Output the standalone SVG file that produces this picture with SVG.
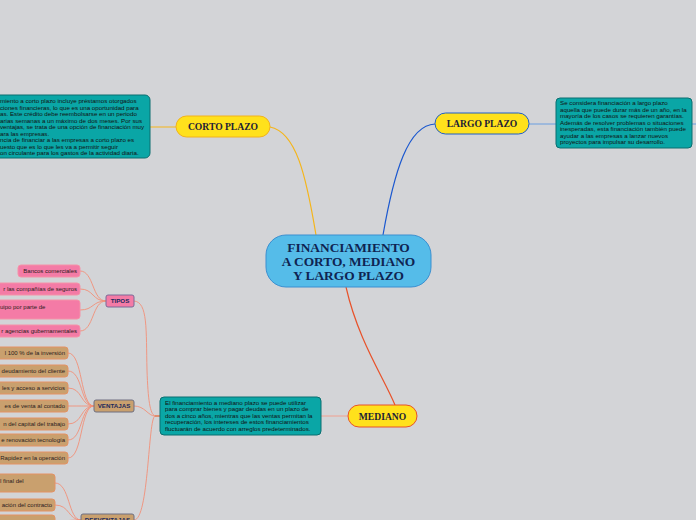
<svg xmlns="http://www.w3.org/2000/svg" width="696" height="520" viewBox="0 0 696 520">
<style>
.bg{fill:#d3d4d7}
.main{fill:#55bce9;stroke:#3b8fd0;stroke-width:1}
.mt{font-family:"Liberation Serif",serif;font-weight:bold;font-size:13.4px;fill:#0f2452;text-anchor:middle}
.yel{fill:#ffe11c;stroke-width:1}
.yt{font-family:"Liberation Serif",serif;font-weight:bold;font-size:9.6px;fill:#1b2036;text-anchor:middle}
.teal{fill:#0aa6a6;stroke:#0b6e70;stroke-width:1}
.tt{font-family:"Liberation Sans",Arial,sans-serif;font-size:6.2px;fill:#111}
.pink{fill:#f47ba6;stroke:#f592a8;stroke-width:1}
.tan{fill:#c9a06e;stroke:#e49264;stroke-width:1}
.lt{font-family:"Liberation Sans",Arial,sans-serif;font-size:6px;fill:#2a2020}
.sub{font-family:"Liberation Sans",Arial,sans-serif;font-weight:bold;font-size:6.2px;fill:#1c2a5c;text-anchor:middle}
.c{fill:none;stroke:#f29078;stroke-width:0.9}
</style>
<rect class="bg" x="0" y="0" width="696" height="520"/>
<g id="connectors">
<path d="M316,235 C306,175 296,132 270,127" fill="none" stroke="#f5b51a" stroke-width="1.2"/>
<path d="M176,127 L150,127" fill="none" stroke="#f5b51a" stroke-width="1"/>
<path d="M383,235 C394,172 408,125 435,124" fill="none" stroke="#1b58cf" stroke-width="1.2"/>
<path d="M529,124 L556,124" fill="none" stroke="#6b9ee0" stroke-width="1"/>
<path d="M692,124 L696,124" fill="none" stroke="#6b9ee0" stroke-width="1"/>
<path d="M346,287 C358,340 384,378 395,405" fill="none" stroke="#e8522a" stroke-width="1.2"/>
<path d="M348,416 L321,416" fill="none" stroke="#f0a090" stroke-width="1"/>
<path d="M155,416 L160,416" fill="none" stroke="#e8602a" stroke-width="1.2"/>
<path class="c" d="M155,416 C150,414 148,400 147,370 C146,330 148,302 134,301"/>
<path class="c" d="M155,416 C148,416 145,406 134,406"/>
<path class="c" d="M155,416 C148,418 149,520 134,520"/>
<path class="c" d="M106,301 C92,301 94,271 80,271"/>
<path class="c" d="M106,301 C92,301 94,289 80,289"/>
<path class="c" d="M106,301 C92,301 94,310 80,310"/>
<path class="c" d="M106,301 C92,301 94,331 80,331"/>
<path class="c" d="M94,406 C80,406 83,353 68,353"/>
<path class="c" d="M94,406 C80,406 83,371 68,371"/>
<path class="c" d="M94,406 C80,406 83,388 68,388"/>
<path class="c" d="M94,406 C80,406 83,406 68,406"/>
<path class="c" d="M94,406 C80,406 83,424 68,424"/>
<path class="c" d="M94,406 C80,406 83,440 68,440"/>
<path class="c" d="M94,406 C80,406 83,458 68,458"/>
<path class="c" d="M81,520 C68,520 70,483 55,483"/>
<path class="c" d="M81,520 C68,520 70,505 55,505"/>
<path class="c" d="M81,520 C70,520 68,521 55,521"/>
</g>
<g id="center">
<rect class="main" x="266" y="235" width="165" height="52" rx="20"/>
<text class="mt" x="348.5" y="252">FINANCIAMIENTO</text>
<text class="mt" x="348.5" y="266">A CORTO, MEDIANO</text>
<text class="mt" x="348.5" y="280">Y LARGO PLAZO</text>
</g>
<g id="corto">
<rect class="yel" x="176" y="116" width="94" height="21" rx="10.5" stroke="#f2b21a"/>
<text class="yt" x="223" y="130">CORTO PLAZO</text>
</g>
<g id="corto-desc">
<rect class="teal" x="-10" y="95" width="160" height="63" rx="5"/>
<text class="tt" x="0" y="103">miento a corto plazo incluye préstamos otorgados</text>
<text class="tt" x="0" y="109.5">ciones financieras, lo que es una oportunidad para</text>
<text class="tt" x="0" y="116">as. Este crédito debe reembolsarse en un periodo</text>
<text class="tt" x="0" y="122.5">arias semanas a un máximo de dos meses. Por sus</text>
<text class="tt" x="0" y="129">ventajas, se trata de una opción de financiación muy</text>
<text class="tt" x="0" y="135.5">ara las empresas.</text>
<text class="tt" x="0" y="142">ncia de financiar a las empresas a corto plazo es</text>
<text class="tt" x="0" y="148.5">uesto que es lo que les va a permitir seguir</text>
<text class="tt" x="0" y="155">on circulante para los gastos de la actividad diaria.</text>
</g>
<g id="largo">
<rect class="yel" x="435" y="113" width="94" height="21" rx="10.5" stroke="#1f5fc8"/>
<text class="yt" x="482" y="127">LARGO PLAZO</text>
</g>
<g id="largo-desc">
<rect class="teal" x="556" y="98" width="136" height="50" rx="4"/>
<text class="tt" x="560" y="105">Se considera financiación a largo plazo</text>
<text class="tt" x="560" y="111.5">aquella que puede durar más de un año, en la</text>
<text class="tt" x="560" y="118">mayoría de los casos se requieren garantías.</text>
<text class="tt" x="560" y="124.5">Además de resolver problemas o situaciones</text>
<text class="tt" x="560" y="131">inesperadas, esta financiación también puede</text>
<text class="tt" x="560" y="137.5">ayudar a las empresas a lanzar nuevos</text>
<text class="tt" x="560" y="144">proyectos para impulsar su desarrollo.</text>
</g>
<g id="mediano">
<rect class="yel" x="348" y="405" width="69" height="22" rx="11" stroke="#e8522a"/>
<text class="yt" x="382.5" y="419.5">MEDIANO</text>
</g>
<g id="mediano-desc">
<rect class="teal" x="160" y="397" width="161" height="38" rx="4"/>
<text class="tt" x="165" y="404.5">El financiamiento a mediano plazo se puede utilizar</text>
<text class="tt" x="165" y="411">para comprar bienes y pagar deudas en un plazo de</text>
<text class="tt" x="165" y="417.5">dos a cinco años, mientras que las ventas permitan la</text>
<text class="tt" x="165" y="424">recuperación, los intereses de estos financiamientos</text>
<text class="tt" x="165" y="430.5">fluctuarán de acuerdo con arreglos predeterminados.</text>
</g>
<g id="tipos">
<rect x="106" y="295" width="28" height="12" rx="2" fill="#f47ba6" stroke="#7a6a98"/>
<text class="sub" x="120" y="303.2">TIPOS</text>
</g>
<g id="ventajas">
<rect x="94" y="400" width="40" height="12" rx="2" fill="#c9a06e" stroke="#6e6e80"/>
<text class="sub" x="114" y="408.2">VENTAJAS</text>
</g>
<g id="desventajas">
<rect x="81" y="514" width="53" height="12" rx="2" fill="#c9a06e" stroke="#6e6e80"/>
<text class="sub" x="107.5" y="522.2">DESVENTAJAS</text>
</g>
<g id="tipo1"><rect class="pink" x="18" y="265" width="62" height="12" rx="3"/><text class="lt" x="77" y="273.2" text-anchor="end">Bancos comerciales</text></g>
<g id="tipo2"><rect class="pink" x="-5" y="283" width="85" height="12" rx="3"/><text class="lt" x="77" y="291.2" text-anchor="end">r las compañías de seguros</text></g>
<g id="tipo3"><rect class="pink" x="-5" y="300" width="85" height="19" rx="3"/><text class="lt" x="0" y="308.5">uipo por parte de</text></g>
<g id="tipo4"><rect class="pink" x="-5" y="325" width="85" height="12" rx="3"/><text class="lt" x="77" y="333.2" text-anchor="end">r agencias gubernamentales</text></g>
<g id="v1"><rect class="tan" x="-5" y="347" width="73" height="12" rx="3"/><text class="lt" x="65" y="355.2" text-anchor="end">l 100 % de la inversión</text></g>
<g id="v2"><rect class="tan" x="-5" y="365" width="73" height="12" rx="3"/><text class="lt" x="65" y="373.2" text-anchor="end">deudamiento del cliente</text></g>
<g id="v3"><rect class="tan" x="-5" y="382" width="73" height="12" rx="3"/><text class="lt" x="65" y="390.2" text-anchor="end">les y acceso a servicios</text></g>
<g id="v4"><rect class="tan" x="-5" y="400" width="73" height="12" rx="3"/><text class="lt" x="65" y="408.2" text-anchor="end">es de venta al contado</text></g>
<g id="v5"><rect class="tan" x="-5" y="418" width="73" height="12" rx="3"/><text class="lt" x="65" y="426.2" text-anchor="end">n del capital del trabajo</text></g>
<g id="v6"><rect class="tan" x="-5" y="434" width="73" height="12" rx="3"/><text class="lt" x="65" y="442.2" text-anchor="end">e renovación tecnología</text></g>
<g id="v7"><rect class="tan" x="-5" y="452" width="73" height="12" rx="3"/><text class="lt" x="65" y="460.2" text-anchor="end">Rapidez en la operación</text></g>
<g id="d1"><rect class="tan" x="-5" y="474" width="60" height="18" rx="3"/><text class="lt" x="0" y="482.5">l final del</text></g>
<g id="d2"><rect class="tan" x="-5" y="499" width="60" height="12" rx="3"/><text class="lt" x="52" y="507.2" text-anchor="end">ación del contracto</text></g>
<g id="d3"><rect class="tan" x="-5" y="515" width="60" height="12" rx="3"/></g>
</svg>
